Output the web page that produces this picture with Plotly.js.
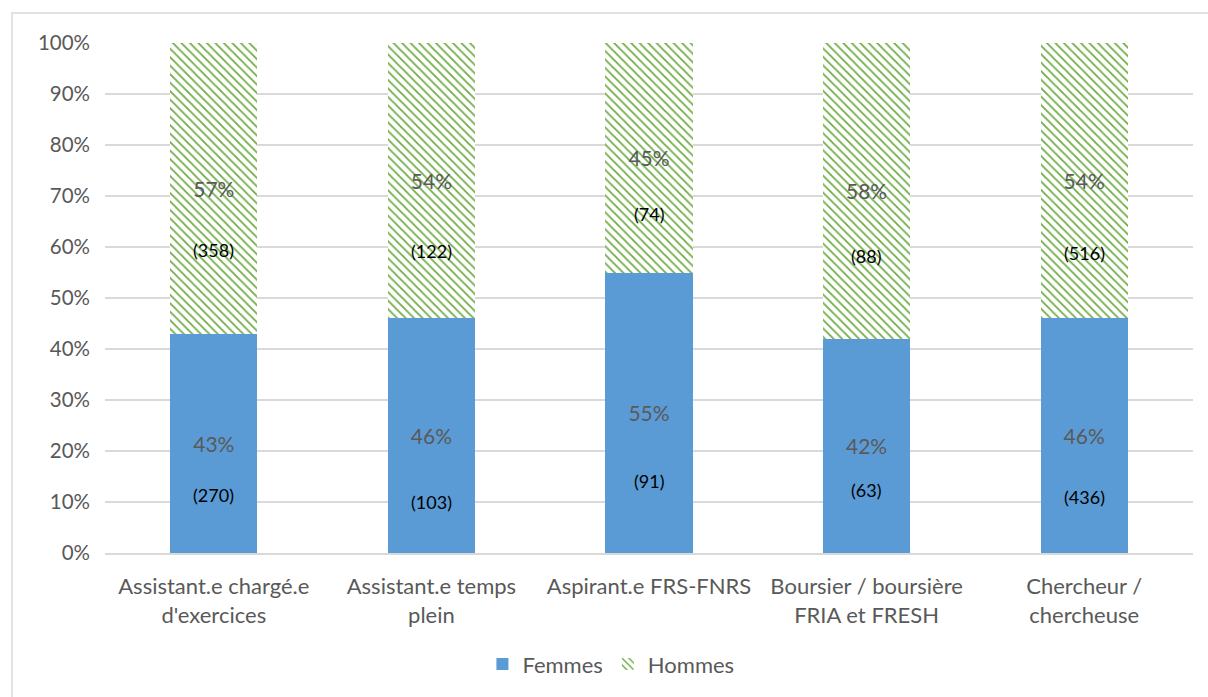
<!DOCTYPE html>
<html>
<head>
<meta charset="utf-8">
<script src="https://cdn.plot.ly/plotly-3.0.1.min.js"></script>
<style>
  html, body { margin: 0; padding: 0; background: #ffffff; }
  #chart { width: 1208px; height: 697px; }
</style>
</head>
<body>
<div id="chart"></div>
<script>
// ---- Data ----
const categories = [
  "Assistant.e chargé.e<br>d'exercices",
  "Assistant.e temps<br>plein",
  "Aspirant.e FRS-FNRS",
  "Boursier / boursière<br>FRIA et FRESH",
  "Chercheur /<br>chercheuse"
];
const femmesPct = [0.43, 0.46, 0.55, 0.42, 0.46];
const hommesPct = [0.57, 0.54, 0.45, 0.58, 0.54];
const femmesN = [270, 103, 91, 63, 436];
const hommesN = [358, 122, 74, 88, 516];
const yTickVals = [0, 0.1, 0.2, 0.3, 0.4, 0.5, 0.6, 0.7, 0.8, 0.9, 1.0];
const yTickText = ["0%", "10%", "20%", "30%", "40%", "50%", "60%", "70%", "80%", "90%", "100%"];

// ---- Label placement (pixel offsets below segment centre) ----
const femmesCountShift = [52, 66, 68, 44, 61];
const hommesCountShift = [62, 70, 56, 65, 72];

const FONT = "Lato, 'Open Sans', sans-serif";
const GREY = "#595959";

const pctText = arr => arr.map(v => Math.round(v * 100) + "%");

const traces = [
  {
    type: "bar",
    name: "Femmes",
    x: categories,
    y: femmesPct,
    marker: { color: "#5B9BD5", line: { width: 0 } },
    text: pctText(femmesPct),
    textposition: "inside",
    insidetextanchor: "middle",
    constraintext: "none",
    textfont: { family: FONT, size: 21, color: GREY },
    hoverinfo: "skip"
  },
  {
    type: "bar",
    name: "Hommes",
    x: categories,
    y: hommesPct,
    marker: {
      color: "#ffffff",
      line: { width: 0 },
      pattern: { shape: "\\", fgcolor: "#70AD47", bgcolor: "#ffffff", size: 6, solidity: 0.3 }
    },
    text: pctText(hommesPct),
    textposition: "inside",
    insidetextanchor: "middle",
    constraintext: "none",
    textfont: { family: FONT, size: 21, color: GREY },
    hoverinfo: "skip"
  }
];

const annotations = [];
categories.forEach((c, i) => {
  annotations.push({
    x: c, y: femmesPct[i] / 2, xref: "x", yref: "y",
    text: "(" + femmesN[i] + ")", showarrow: false,
    yshift: -femmesCountShift[i],
    font: { family: FONT, size: 18, color: "#000000" }
  });
  annotations.push({
    x: c, y: femmesPct[i] + hommesPct[i] / 2, xref: "x", yref: "y",
    text: "(" + hommesN[i] + ")", showarrow: false,
    yshift: -hommesCountShift[i],
    font: { family: FONT, size: 18, color: "#000000" }
  });
});

const layout = {
  width: 1208,
  height: 697,
  margin: { l: 105, r: 15, t: 43, b: 142 },
  paper_bgcolor: "#ffffff",
  plot_bgcolor: "#ffffff",
  barmode: "stack",
  bargap: 0.6,
  font: { family: FONT, size: 20, color: GREY },
  showlegend: true,
  legend: {
    orientation: "h",
    x: 0.465, xanchor: "center",
    y: -0.218, yanchor: "middle",
    font: { family: FONT, size: 22, color: GREY },
    traceorder: "normal",
    itemwidth: 30
  },
  xaxis: {
    type: "category",
    showgrid: false,
    showline: true,
    linecolor: "#D9D9D9",
    linewidth: 1.5,
    ticks: "",
    ticklabelstandoff: 13,
    tickfont: { family: FONT, size: 22, color: GREY },
    automargin: false
  },
  yaxis: {
    range: [0, 1],
    tickvals: yTickVals,
    ticktext: yTickText,
    showgrid: true,
    gridcolor: "#D9D9D9",
    gridwidth: 1.5,
    zeroline: false,
    showline: false,
    ticks: "",
    ticklabelstandoff: 14,
    tickfont: { family: FONT, size: 20.5, color: GREY },
    automargin: false
  },
  annotations: annotations,
  shapes: [
    {
      type: "rect", xref: "paper", yref: "paper",
      x0: -0.0855, x1: 1.2, y0: 1.0586, y1: -0.6,
      line: { color: "#D9D9D9", width: 1.5 },
      fillcolor: "rgba(0,0,0,0)",
      layer: "below"
    }
  ]
};

Plotly.newPlot("chart", traces, layout, { displayModeBar: false, staticPlot: true });
</script>
</body>
</html>
